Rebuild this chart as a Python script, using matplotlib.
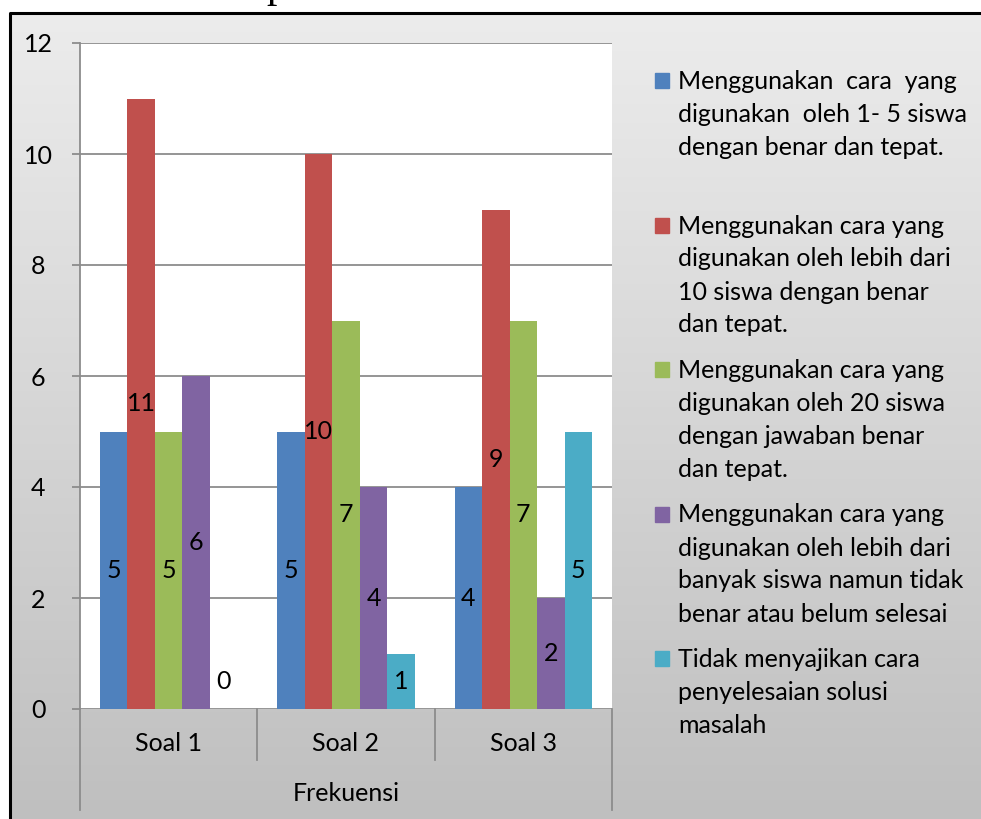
import numpy as np
import matplotlib
matplotlib.use('Agg')
import matplotlib.pyplot as plt
from matplotlib.patches import Rectangle
from matplotlib.colors import LinearSegmentedColormap

plt.rcParams['font.family'] = ['Lato', 'DejaVu Sans']

# data
categories = ['Soal 1', 'Soal 2', 'Soal 3']
group_label = 'Frekuensi'
series_names = [
    'Menggunakan  cara  yang\ndigunakan  oleh 1- 5 siswa\ndengan benar dan tepat.',
    'Menggunakan cara yang\ndigunakan oleh lebih dari\n10 siswa dengan benar\ndan tepat.',
    'Menggunakan cara yang\ndigunakan oleh 20 siswa\ndengan jawaban benar\ndan tepat.',
    'Menggunakan cara yang\ndigunakan oleh lebih dari\nbanyak siswa namun tidak\nbenar atau belum selesai',
    'Tidak menyajikan cara\npenyelesaian solusi\nmasalah',
]
s1 = [5, 5, 4]
s2 = [11, 10, 9]
s3 = [5, 7, 7]
s4 = [6, 4, 2]
s5 = [0, 1, 5]
series = [s1, s2, s3, s4, s5]
colors = ['#4F81BD', '#C0504D', '#9BBB59', '#8064A2', '#4BACC6']
yticks = [0, 2, 4, 6, 8, 10, 12]

W, H = 981, 819
FS = 18
fig = plt.figure(figsize=(W / 100, H / 100), dpi=100)

# background with gradient and border
bg = fig.add_axes([0, 0, 1, 1], zorder=0)
bg.set_xlim(0, W)
bg.set_ylim(H, 0)
bg.axis('off')
grad = np.linspace(0, 1, 256).reshape(-1, 1)
cmap = LinearSegmentedColormap.from_list('g', ['#ececec', '#bfbfbf'])
bg.imshow(grad, cmap=cmap, extent=[10, W, H, 13], aspect='auto')
bg.plot([10, 10, W], [H, 13, 13], color='black', lw=2.2)
bg.text(277, -3, 'p', family='Liberation Serif', fontsize=30, ha='center', va='baseline')

# plot area
ax = fig.add_axes([80 / W, 1 - 709 / H, 532 / W, 666 / H], zorder=1)
ax.set_facecolor('white')
n = len(series)
x = np.arange(len(categories))
bw = 0.155
for i, (vals, c) in enumerate(zip(series, colors)):
    pos = x + (i - (n - 1) / 2) * bw
    ax.bar(pos, vals, width=bw, color=c, zorder=3)
    for p, v in zip(pos, vals):
        ax.text(p, max(v / 2, 0.5), str(v), ha='center', va='center', fontsize=FS, zorder=4)

ax.set_xlim(-0.5, len(categories) - 0.5)
ax.set_ylim(0, 12)
ax.set_yticks(yticks)
ax.set_yticklabels([str(t) for t in yticks], ha='center')
ax.grid(axis='y', color='#8c8c8c', lw=1.3, zorder=1)
ax.tick_params(axis='y', length=6, width=1.3, color='#8c8c8c', pad=24, labelsize=FS)
ax.set_xticks([])
for s in ['top', 'right', 'bottom']:
    ax.spines[s].set_visible(False)
ax.spines['left'].set_color('#8c8c8c')
ax.spines['left'].set_linewidth(1.3)

# category axis
tr = ax.get_xaxis_transform()
for b in np.arange(len(categories) + 1) - 0.5:
    low = -0.152 if b in (-0.5, len(categories) - 0.5) else -0.077
    ax.plot([b, b], [0, low], color='#8c8c8c', lw=1.3, transform=tr, clip_on=False)
for xi, lab in zip(x, categories):
    ax.text(xi, -0.052, lab, transform=tr, ha='center', va='center', fontsize=FS)
ax.text(x.mean(), -0.127, group_label, transform=tr, ha='center', va='center', fontsize=FS)

# legend, drawn line by line
for i, (name, c) in enumerate(zip(series_names, colors)):
    base = 89 + i * 144.5
    bg.add_patch(Rectangle((655, base - 16), 14, 15, color=c))
    for k, line in enumerate(name.split('\n')):
        bg.text(678, base + k * 33, line, fontsize=FS, va='baseline', ha='left')

fig.savefig('out.png', dpi=100)
